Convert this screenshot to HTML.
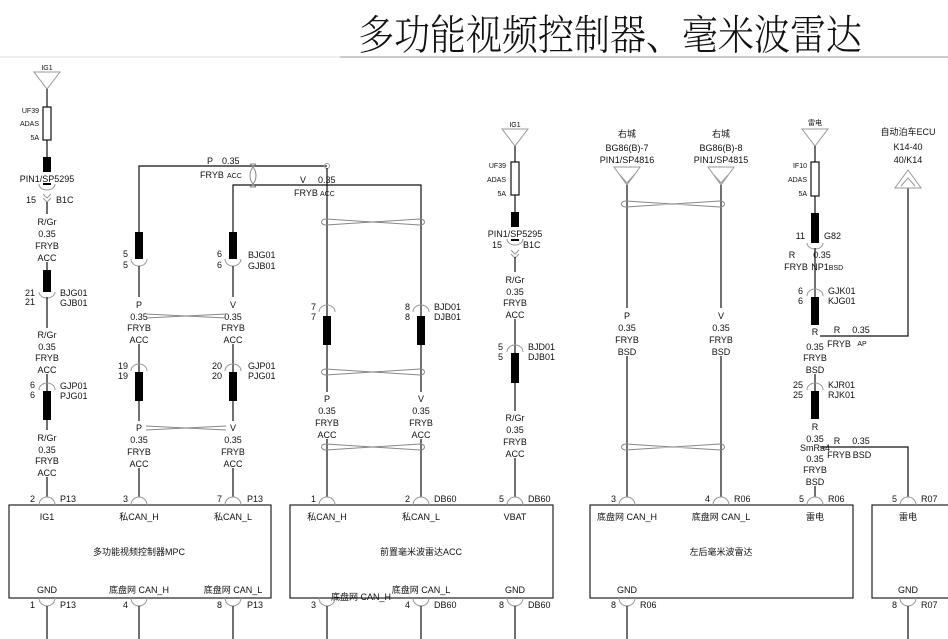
<!DOCTYPE html>
<html><head><meta charset="utf-8"><style>
html,body{margin:0;padding:0;background:#fff;}
svg{display:block}
text{font-family:"Liberation Sans Narrow","Liberation Sans","Noto Sans CJK SC",sans-serif;font-size:9px;fill:#111;text-anchor:middle}
.l{text-anchor:start}.r{text-anchor:end}
.s{font-size:7px}
.w{stroke:#111;stroke-width:1.2;fill:none}
.g{stroke:#999;stroke-width:1;fill:none}
.tw{stroke:#888;stroke-width:1;fill:none}
</style></head><body>
<svg width="948" height="639" viewBox="0 0 948 639" xmlns="http://www.w3.org/2000/svg">
<text x="610" y="50" style="font-family:'Noto Serif CJK SC','Noto Sans CJK SC',serif;font-size:36px;font-weight:300" transform="translate(0,-8) scale(1,1.15)">多功能视频控制器、毫米波雷达</text>
<line x1="340" y1="57" x2="948" y2="57" class="g"/>
<line x1="0" y1="57" x2="340" y2="57" stroke="#ddd"/>

<!-- ============ Column 1 x=47 ============ -->
<text x="47" y="70" class="s">IG1</text>
<path d="M34,72 L60,72 L47,89 Z" class="g"/>
<line x1="47" y1="89" x2="47" y2="107" class="w"/>
<rect x="43" y="107" width="8" height="33" class="w" stroke-width="1"/>
<text x="39" y="113" class="r s">UF39</text><text x="39" y="126" class="r s">ADAS</text><text x="39" y="140" class="r s">5A</text>
<line x1="47" y1="140" x2="47" y2="157" class="w"/>
<rect x="43" y="157" width="8" height="15" fill="#000"/>
<text x="47" y="182">PIN1/SP5295</text>
<path d="M39,184 a8,6 0 0 0 16,0" class="g"/>
<line x1="43" y1="184" x2="51" y2="184" stroke="#000" stroke-width="2"/>
<path d="M43,194 L47,198 L51,194 M43,198 L47,202 L51,198" class="g"/>
<text x="36" y="203" class="r">15</text><text x="56" y="203" class="l">B1C</text>
<line x1="47" y1="202" x2="47" y2="214" class="w"/>
<text x="47" y="225">R/Gr</text><text x="47" y="237">0.35</text><text x="47" y="249">FRYB</text><text x="47" y="261">ACC</text>
<line x1="47" y1="262" x2="47" y2="270" class="w"/>
<rect x="43" y="270" width="8" height="22" fill="#000"/>
<path d="M39,292 a8,6 0 0 0 16,0" class="g"/>
<text x="35" y="296" class="r">21</text><text x="35" y="305" class="r">21</text>
<text x="60" y="296" class="l">BJG01</text><text x="60" y="306" class="l">GJB01</text>
<line x1="47" y1="297" x2="47" y2="328" class="w"/>
<text x="47" y="338">R/Gr</text><text x="47" y="350">0.35</text><text x="47" y="361">FRYB</text><text x="47" y="373">ACC</text>
<line x1="47" y1="374" x2="47" y2="391" class="w"/>
<path d="M39,390 a8,7 0 0 1 16,0" class="g"/>
<text x="35" y="388" class="r">6</text><text x="35" y="398" class="r">6</text>
<text x="60" y="389" class="l">GJP01</text><text x="60" y="399" class="l">PJG01</text>
<rect x="43" y="391" width="8" height="29" fill="#000"/>
<line x1="47" y1="420" x2="47" y2="430" class="w"/>
<text x="47" y="441">R/Gr</text><text x="47" y="453">0.35</text><text x="47" y="464">FRYB</text><text x="47" y="476">ACC</text>
<line x1="47" y1="477" x2="47" y2="497" class="w"/>

<!-- ============ Columns 2,3 ============ -->
<path d="M139,232 L139,166 L327,166" class="w"/>
<path d="M233,232 L233,185 L421,185 L421,316" class="w"/>
<circle cx="327" cy="166" r="2.5" class="g"/>
<line x1="327" y1="168" x2="327" y2="316" class="w"/>
<path d="M250,164 C258,170 258,181 250,187 M256,164 C248,170 248,181 256,187 M250,164 L256,164 M250,187 L256,187" class="tw"/>
<text x="207" y="164" class="l">P</text><text x="222" y="164" class="l">0.35</text>
<text x="200" y="178" class="l">FRYB</text><text x="227" y="178" class="l s">ACC</text>
<text x="300" y="183" class="l">V</text><text x="318" y="183" class="l">0.35</text>
<text x="294" y="196" class="l">FRYB</text><text x="320" y="196" class="l s">ACC</text>
<!-- col2 -->
<rect x="135" y="232" width="8" height="27" fill="#000"/>
<path d="M131,259 a8,7 0 0 0 16,0" class="g"/>
<text x="128" y="257" class="r">5</text><text x="128" y="268" class="r">5</text>
<line x1="139" y1="266" x2="139" y2="297" class="w"/>
<text x="139" y="308">P</text><text x="139" y="320">0.35</text><text x="139" y="331">FRYB</text><text x="139" y="343">ACC</text>
<line x1="139" y1="344" x2="139" y2="372" class="w"/>
<path d="M131,371 a8,7 0 0 1 16,0" class="g"/>
<text x="128" y="369" class="r">19</text><text x="128" y="379" class="r">19</text>
<rect x="135" y="372" width="8" height="29" fill="#000"/>
<line x1="139" y1="401" x2="139" y2="421" class="w"/>
<text x="139" y="431">P</text><text x="139" y="443">0.35</text><text x="139" y="455">FRYB</text><text x="139" y="467">ACC</text>
<line x1="139" y1="468" x2="139" y2="497" class="w"/>
<!-- col3 -->
<rect x="229" y="232" width="8" height="27" fill="#000"/>
<path d="M225,259 a8,7 0 0 0 16,0" class="g"/>
<text x="222" y="257" class="r">6</text><text x="222" y="268" class="r">6</text>
<text x="248" y="258" class="l">BJG01</text><text x="248" y="269" class="l">GJB01</text>
<line x1="233" y1="266" x2="233" y2="297" class="w"/>
<text x="233" y="308">V</text><text x="233" y="320">0.35</text><text x="233" y="331">FRYB</text><text x="233" y="343">ACC</text>
<line x1="233" y1="344" x2="233" y2="372" class="w"/>
<path d="M225,371 a8,7 0 0 1 16,0" class="g"/>
<text x="222" y="369" class="r">20</text><text x="222" y="379" class="r">20</text>
<text x="248" y="369" class="l">GJP01</text><text x="248" y="379" class="l">PJG01</text>
<rect x="229" y="372" width="8" height="29" fill="#000"/>
<line x1="233" y1="401" x2="233" y2="421" class="w"/>
<text x="233" y="431">V</text><text x="233" y="443">0.35</text><text x="233" y="455">FRYB</text><text x="233" y="467">ACC</text>
<line x1="233" y1="468" x2="233" y2="497" class="w"/>
<path d="M146,314 L226,318 M146,318 L226,314" class="tw"/>
<path d="M146,426 L226,430 M146,430 L226,426" class="tw"/>

<!-- Box 1 -->
<rect x="9" y="505" width="262" height="93" fill="none" stroke="#222" stroke-width="1.2"/>
<path d="M39,505 a8,8 0 0 1 16,0 M131,505 a8,8 0 0 1 16,0 M225,505 a8,8 0 0 1 16,0" class="g"/>
<text x="35" y="502" class="r">2</text><text x="60" y="502" class="l">P13</text>
<text x="128" y="502" class="r">3</text>
<text x="222" y="502" class="r">7</text><text x="247" y="502" class="l">P13</text>
<text x="47" y="520">IG1</text><text x="139" y="520">私CAN_H</text><text x="233" y="520">私CAN_L</text>
<text x="139" y="555">多功能视频控制器MPC</text>
<text x="47" y="593">GND</text><text x="139" y="593">底盘网 CAN_H</text><text x="233" y="593">底盘网 CAN_L</text>
<path d="M39,598 a8,8 0 0 0 16,0 M131,598 a8,8 0 0 0 16,0 M225,598 a8,8 0 0 0 16,0" class="g"/>
<text x="35" y="608" class="r">1</text><text x="60" y="608" class="l">P13</text>
<text x="128" y="608" class="r">4</text>
<text x="222" y="608" class="r">8</text><text x="247" y="608" class="l">P13</text>
<line x1="47" y1="606" x2="47" y2="639" class="w"/><line x1="139" y1="606" x2="139" y2="639" class="w"/><line x1="233" y1="606" x2="233" y2="639" class="w"/>

<!-- ============ Columns 4,5 ============ -->
<path d="M326,219 C320,219 320,225 326,225 L420,219 C426,219 426,225 420,225 L326,219" class="tw"/>
<path d="M319,312 a8,7 0 0 1 16,0 M413,312 a8,7 0 0 1 16,0" class="g"/>
<text x="316" y="310" class="r">7</text><text x="316" y="320" class="r">7</text>
<text x="410" y="310" class="r">8</text><text x="410" y="320" class="r">8</text>
<text x="434" y="310" class="l">BJD01</text><text x="434" y="320" class="l">DJB01</text>
<rect x="323" y="316" width="8" height="29" fill="#000"/><rect x="417" y="316" width="8" height="29" fill="#000"/>
<line x1="327" y1="345" x2="327" y2="392" class="w"/><line x1="421" y1="345" x2="421" y2="392" class="w"/>
<path d="M326,369 C320,369 320,375 326,375 L420,369 C426,369 426,375 420,375 L326,369" class="tw"/>
<text x="327" y="402">P</text><text x="327" y="414">0.35</text><text x="327" y="426">FRYB</text><text x="327" y="438">ACC</text>
<text x="421" y="402">V</text><text x="421" y="414">0.35</text><text x="421" y="426">FRYB</text><text x="421" y="438">ACC</text>
<line x1="327" y1="439" x2="327" y2="497" class="w"/><line x1="421" y1="439" x2="421" y2="497" class="w"/>
<path d="M326,444 C320,444 320,450 326,450 L420,444 C426,444 426,450 420,450 L326,444" class="tw"/>

<!-- ============ Column 6 x=515 ============ -->
<text x="515" y="127" class="s">IG1</text>
<path d="M502,129 L528,129 L515,146 Z" class="g"/>
<line x1="515" y1="146" x2="515" y2="162" class="w"/>
<rect x="511" y="162" width="8" height="33" class="w" stroke-width="1"/>
<text x="506" y="168" class="r s">UF39</text><text x="506" y="182" class="r s">ADAS</text><text x="506" y="196" class="r s">5A</text>
<line x1="515" y1="195" x2="515" y2="212" class="w"/>
<rect x="511" y="212" width="8" height="15" fill="#000"/>
<text x="515" y="237">PIN1/SP5295</text>
<path d="M507,239 a8,6 0 0 0 16,0" class="g"/>
<line x1="511" y1="240" x2="519" y2="240" stroke="#000" stroke-width="2"/>
<text x="502" y="248" class="r">15</text><text x="523" y="248" class="l">B1C</text>
<path d="M511,250 L515,254 L519,250 M511,254 L515,258 L519,254" class="g"/>
<line x1="515" y1="257" x2="515" y2="272" class="w"/>
<text x="515" y="283">R/Gr</text><text x="515" y="295">0.35</text><text x="515" y="306">FRYB</text><text x="515" y="318">ACC</text>
<line x1="515" y1="319" x2="515" y2="353" class="w"/>
<path d="M507,352 a8,7 0 0 1 16,0" class="g"/>
<text x="503" y="350" class="r">5</text><text x="503" y="360" class="r">5</text>
<text x="528" y="350" class="l">BJD01</text><text x="528" y="360" class="l">DJB01</text>
<rect x="511" y="353" width="8" height="30" fill="#000"/>
<line x1="515" y1="383" x2="515" y2="411" class="w"/>
<text x="515" y="421">R/Gr</text><text x="515" y="433">0.35</text><text x="515" y="445">FRYB</text><text x="515" y="457">ACC</text>
<line x1="515" y1="458" x2="515" y2="497" class="w"/>

<!-- Box 2 -->
<rect x="290" y="505" width="263" height="93" fill="none" stroke="#222" stroke-width="1.2"/>
<path d="M319,505 a8,8 0 0 1 16,0 M413,505 a8,8 0 0 1 16,0 M507,505 a8,8 0 0 1 16,0" class="g"/>
<text x="316" y="502" class="r">1</text>
<text x="410" y="502" class="r">2</text><text x="434" y="502" class="l">DB60</text>
<text x="504" y="502" class="r">5</text><text x="528" y="502" class="l">DB60</text>
<text x="327" y="520">私CAN_H</text><text x="421" y="520">私CAN_L</text><text x="515" y="520">VBAT</text>
<text x="421" y="555">前置毫米波雷达ACC</text>
<text x="361" y="600">底盘网 CAN_H</text><text x="421" y="593">底盘网 CAN_L</text><text x="515" y="593">GND</text>
<path d="M319,598 a8,8 0 0 0 16,0 M413,598 a8,8 0 0 0 16,0 M507,598 a8,8 0 0 0 16,0" class="g"/>
<text x="316" y="608" class="r">3</text>
<text x="410" y="608" class="r">4</text><text x="434" y="608" class="l">DB60</text>
<text x="504" y="608" class="r">8</text><text x="528" y="608" class="l">DB60</text>
<line x1="327" y1="606" x2="327" y2="639" class="w"/><line x1="421" y1="606" x2="421" y2="639" class="w"/><line x1="515" y1="606" x2="515" y2="639" class="w"/>

<!-- ============ Columns 7,8 ============ -->
<text x="627" y="137">右城</text><text x="627" y="151">BG86(B)-7</text><text x="627" y="163">PIN1/SP4816</text>
<text x="721" y="137">右城</text><text x="721" y="151">BG86(B)-8</text><text x="721" y="163">PIN1/SP4815</text>
<path d="M614,167 L640,167 L627,185 Z M620,175 L627,183 L634,175" class="g"/>
<path d="M708,167 L734,167 L721,185 Z M714,175 L721,183 L728,175" class="g"/>
<line x1="627" y1="185" x2="627" y2="308" class="w"/><line x1="721" y1="185" x2="721" y2="308" class="w"/>
<path d="M626,201 C620,201 620,207 626,207 L720,201 C726,201 726,207 720,207 L626,201" class="tw"/>
<text x="627" y="319">P</text><text x="627" y="331">0.35</text><text x="627" y="343">FRYB</text><text x="627" y="355">BSD</text>
<text x="721" y="319">V</text><text x="721" y="331">0.35</text><text x="721" y="343">FRYB</text><text x="721" y="355">BSD</text>
<line x1="627" y1="356" x2="627" y2="497" class="w"/><line x1="721" y1="356" x2="721" y2="497" class="w"/>
<path d="M626,444 C620,444 620,450 626,450 L720,444 C726,444 726,450 720,450 L626,444" class="tw"/>

<!-- ============ Column 9 x=815 ============ -->
<text x="815" y="125" class="s">雷电</text>
<path d="M802,129 L828,129 L815,146 Z" class="g"/>
<line x1="815" y1="146" x2="815" y2="162" class="w"/>
<rect x="811" y="162" width="8" height="34" class="w" stroke-width="1"/>
<text x="807" y="168" class="r s">IF10</text><text x="807" y="182" class="r s">ADAS</text><text x="807" y="196" class="r s">5A</text>
<line x1="815" y1="196" x2="815" y2="213" class="w"/>
<rect x="811" y="213" width="8" height="30" fill="#000"/>
<path d="M807,243 a8,6 0 0 0 16,0" class="g"/>
<text x="805" y="239" class="r">11</text><text x="824" y="239" class="l">G82</text>
<line x1="815" y1="248" x2="815" y2="297" class="w"/>
<text x="792" y="258">R</text><text x="822" y="258">0.35</text>
<text x="796" y="270">FRYB</text><text x="820" y="270">NP1</text><text x="836" y="270" class="s">BSD</text>
<path d="M807,296 a8,7 0 0 1 16,0" class="g"/>
<text x="803" y="294" class="r">6</text><text x="803" y="304" class="r">6</text>
<text x="828" y="294" class="l">GJK01</text><text x="828" y="304" class="l">KJG01</text>
<rect x="811" y="297" width="8" height="28" fill="#000"/>
<text x="815" y="335">R</text>
<path d="M820,336 L908,336 L908,188" class="w" stroke="#444"/>
<text x="837" y="333">R</text><text x="861" y="333">0.35</text>
<text x="839" y="347">FRYB</text><text x="862" y="346" class="s">AP</text>
<text x="815" y="350">0.35</text><text x="815" y="361">FRYB</text><text x="815" y="373">BSD</text>
<line x1="815" y1="374" x2="815" y2="391" class="w"/>
<path d="M807,390 a8,7 0 0 1 16,0" class="g"/>
<text x="803" y="388" class="r">25</text><text x="803" y="398" class="r">25</text>
<text x="828" y="388" class="l">KJR01</text><text x="828" y="398" class="l">RJK01</text>
<rect x="811" y="391" width="8" height="28" fill="#000"/>
<text x="815" y="430">R</text><text x="815" y="442">0.35</text><text x="815" y="451">SmRa4</text>
<path d="M820,447 L908,447 L908,497" class="w" stroke="#444"/>
<text x="837" y="444">R</text><text x="861" y="444">0.35</text>
<text x="839" y="458">FRYB</text><text x="862" y="458">BSD</text>
<text x="815" y="462">0.35</text><text x="815" y="473">FRYB</text><text x="815" y="485">BSD</text>
<line x1="815" y1="486" x2="815" y2="497" class="w"/>

<!-- Column 10 -->
<text x="908" y="135">自动泊车ECU</text><text x="908" y="150">K14-40</text><text x="908" y="163">40/K14</text>
<path d="M895,188 L921,188 L908,170 Z M901,186 L908,178 L915,186" class="g"/>

<!-- Box 3 -->
<rect x="590" y="505" width="263" height="93" fill="none" stroke="#222" stroke-width="1.2"/>
<path d="M619,505 a8,8 0 0 1 16,0 M713,505 a8,8 0 0 1 16,0 M807,505 a8,8 0 0 1 16,0" class="g"/>
<text x="616" y="502" class="r">3</text>
<text x="710" y="502" class="r">4</text><text x="734" y="502" class="l">R06</text>
<text x="804" y="502" class="r">5</text><text x="828" y="502" class="l">R06</text>
<text x="627" y="520">底盘网 CAN_H</text><text x="721" y="520">底盘网 CAN_L</text><text x="815" y="520">雷电</text>
<text x="721" y="555">左后毫米波雷达</text>
<text x="627" y="593">GND</text>
<path d="M619,598 a8,8 0 0 0 16,0" class="g"/>
<text x="616" y="608" class="r">8</text><text x="640" y="608" class="l">R06</text>
<line x1="627" y1="606" x2="627" y2="639" class="w"/>

<!-- Box 4 -->
<rect x="872" y="505" width="90" height="93" fill="none" stroke="#222" stroke-width="1.2"/>
<path d="M900,505 a8,8 0 0 1 16,0" class="g"/>
<text x="897" y="502" class="r">5</text><text x="921" y="502" class="l">R07</text>
<text x="908" y="520">雷电</text>
<text x="908" y="593">GND</text>
<path d="M900,598 a8,8 0 0 0 16,0" class="g"/>
<text x="897" y="608" class="r">8</text><text x="921" y="608" class="l">R07</text>
<line x1="908" y1="606" x2="908" y2="639" class="w"/>
</svg>
</body></html>
